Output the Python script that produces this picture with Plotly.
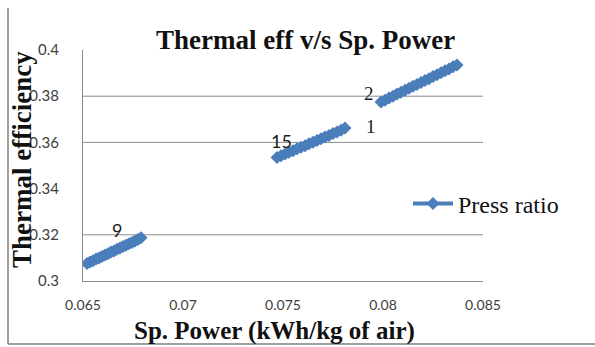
import plotly.graph_objects as go

# ---- data ----
seg1_x = [0.0652, 0.06535, 0.0655, 0.06565, 0.0658, 0.06595, 0.0661, 0.06625, 0.0664, 0.06655,
          0.0667, 0.06685, 0.0670, 0.06715, 0.0673, 0.06745, 0.0676, 0.06775, 0.0679]
seg1_y = [0.3076, 0.3082, 0.3088, 0.3095, 0.3100, 0.3106, 0.3113, 0.3118, 0.3125, 0.3130,
          0.3137, 0.3143, 0.3149, 0.3155, 0.3161, 0.3167, 0.3173, 0.3180, 0.3187]
seg2_x = [0.0747, 0.0749, 0.0751, 0.0753, 0.0755, 0.0757, 0.0759, 0.0761, 0.0763, 0.0765,
          0.0767, 0.0769, 0.0771, 0.0773, 0.0775, 0.0777, 0.0779, 0.0781]
seg2_y = [0.3535, 0.3542, 0.3550, 0.3557, 0.3564, 0.3572, 0.3579, 0.3586, 0.3594, 0.3601,
          0.3608, 0.3616, 0.3623, 0.3630, 0.3638, 0.3645, 0.3653, 0.3662]
seg3_x = [0.0799, 0.0801, 0.0803, 0.0805, 0.0807, 0.0809, 0.0811, 0.0813, 0.0815, 0.0817,
          0.0819, 0.0821, 0.0823, 0.0825, 0.0827, 0.0829, 0.0831, 0.0833, 0.0835, 0.0837]
seg3_y = [0.3775, 0.3783, 0.3792, 0.3800, 0.3809, 0.3817, 0.3826, 0.3834, 0.3843, 0.3851,
          0.3859, 0.3868, 0.3876, 0.3885, 0.3893, 0.3902, 0.3910, 0.3918, 0.3927, 0.3935]

label_text = ["9", "15", "1", "2"]
label_x = [0.0667, 0.0749, 0.0794, 0.0793]
label_y = [0.3222, 0.3605, 0.3668, 0.3812]
label_serif = [False, False, True, True]

x_ticks = [0.065, 0.07, 0.075, 0.08, 0.085]
x_ticktext = ["0.065", "0.07", "0.075", "0.08", "0.085"]
y_ticks = [0.3, 0.32, 0.34, 0.36, 0.38, 0.4]
y_ticktext = ["0.3", "0.32", "0.34", "0.36", "0.38", "0.4"]
grid_y = [0.32, 0.36, 0.38]

series_name = "Press ratio"
title_text = "Thermal eff v/s Sp. Power"
x_title = "Sp. Power (kWh/kg of air)"
y_title = "Thermal efficiency"

# ---- figure ----
xs = seg1_x + [None] + seg2_x + [None] + seg3_x
ys = seg1_y + [None] + seg2_y + [None] + seg3_y

BLUE = "#4A7EBB"
SERIF = "Liberation Serif"
SANS = "Lato"

W, H = 595, 347
L, R, T, B = 83, 112, 50, 66
PW, PH = W - L - R, H - T - B

def px_to_paper_x(px):
    return (px - L) / PW

def px_to_paper_y(py):
    return (H - B - py) / PH

fig = go.Figure()
fig.add_trace(go.Scatter(
    x=xs, y=ys, mode="lines+markers", name=series_name,
    line=dict(color=BLUE, width=4),
    marker=dict(symbol="diamond", size=10, color=BLUE),
    connectgaps=False, showlegend=True,
))

shapes = []
for gy in grid_y:
    shapes.append(dict(type="line", xref="paper", yref="y", x0=0, x1=1, y0=gy, y1=gy,
                       line=dict(color="#8C8C8C", width=1), layer="below"))
# outer frame (left and bottom)
shapes.append(dict(type="line", xref="paper", yref="paper",
                   x0=px_to_paper_x(8), x1=px_to_paper_x(8),
                   y0=px_to_paper_y(8), y1=px_to_paper_y(344),
                   line=dict(color="#7F7F7F", width=1.5)))
shapes.append(dict(type="line", xref="paper", yref="paper",
                   x0=px_to_paper_x(8), x1=px_to_paper_x(596),
                   y0=px_to_paper_y(344), y1=px_to_paper_y(344),
                   line=dict(color="#7F7F7F", width=1.5)))

annotations = []
for t, lx, ly, serif in zip(label_text, label_x, label_y, label_serif):
    annotations.append(dict(x=lx, y=ly, xref="x", yref="y", text=t, showarrow=False,
                            xanchor="center", yanchor="middle",
                            font=dict(family=SERIF if serif else SANS, size=19 if serif else 18,
                                      color="#1a1a1a")))
annotations.append(dict(x=px_to_paper_x(22), y=px_to_paper_y(160), xref="paper", yref="paper",
                        text="<b>" + y_title + "</b>", textangle=-90, showarrow=False,
                        xanchor="center", yanchor="middle",
                        font=dict(family=SERIF, size=27, color="#111111")))
annotations.append(dict(x=px_to_paper_x(274), y=px_to_paper_y(331), xref="paper", yref="paper",
                        text="<b>" + x_title + "</b>", showarrow=False,
                        xanchor="center", yanchor="middle",
                        font=dict(family=SERIF, size=25, color="#111111")))
annotations.append(dict(x=px_to_paper_x(305), y=px_to_paper_y(40), xref="paper", yref="paper",
                        text="<b>" + title_text + "</b>", showarrow=False,
                        xanchor="center", yanchor="middle",
                        font=dict(family=SERIF, size=27, color="#111111")))

fig.update_layout(
    width=W, height=H,
    margin=dict(l=L, r=R, t=T, b=B),
    paper_bgcolor="white", plot_bgcolor="white",
    shapes=shapes, annotations=annotations,
    showlegend=True,
    legend=dict(x=px_to_paper_x(408), y=px_to_paper_y(204), xanchor="left", yanchor="middle",
                font=dict(family=SERIF, size=24, color="#111111"),
                bgcolor="rgba(0,0,0,0)", itemwidth=40),
    xaxis=dict(range=[0.065, 0.085], tickvals=x_ticks, ticktext=x_ticktext,
               showgrid=False, zeroline=False, showline=True, linecolor="#8C8C8C", linewidth=1,
               ticks="", ticklabelstandoff=11,
               tickfont=dict(family=SANS, size=14, color="#404040")),
    yaxis=dict(range=[0.3, 0.4], tickvals=y_ticks, ticktext=y_ticktext,
               showgrid=False, zeroline=False, showline=True, linecolor="#8C8C8C", linewidth=1,
               ticks="", ticklabelstandoff=20,
               tickfont=dict(family=SANS, size=15, color="#404040")),
)

fig.write_html("out.html")
